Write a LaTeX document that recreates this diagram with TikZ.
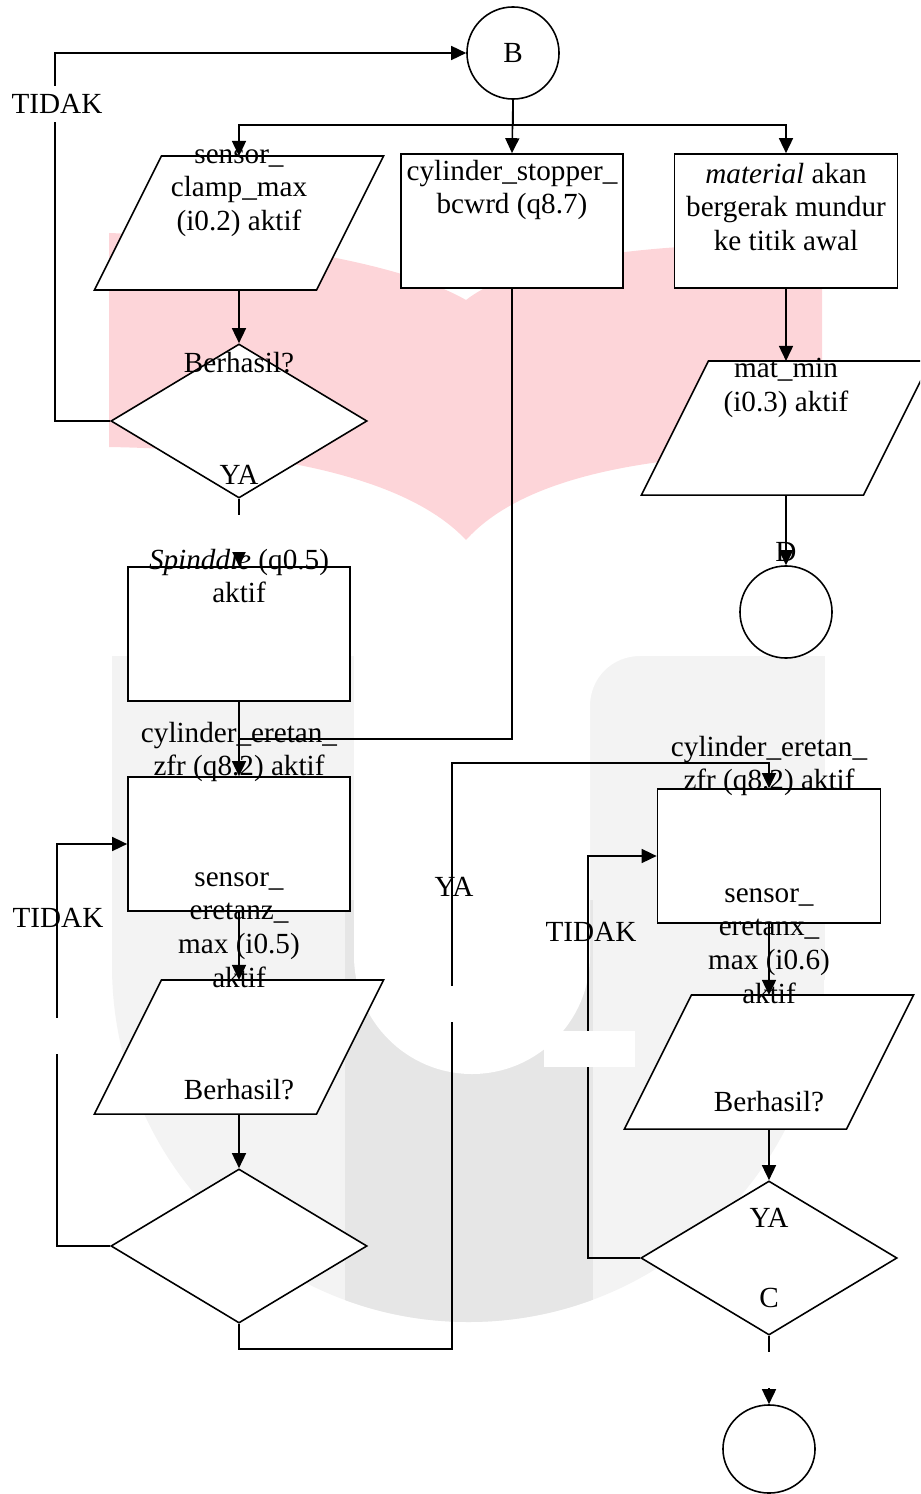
\documentclass[tikz,border=0pt]{standalone}
\usepackage{fontspec}
\setmainfont{Liberation Serif}
\usetikzlibrary{shapes.geometric,arrows.meta,positioning}
\definecolor{wmpink}{RGB}{253,213,217}
\definecolor{wmlight}{RGB}{243,243,243}
\definecolor{wmmid}{RGB}{230,230,230}

\begin{document}
\begin{tikzpicture}[
    x=0.01cm, y=-0.01cm,
    every node/.style={font=\fontsize{8.3}{9.6}\selectfont},
    proc/.style={rectangle, draw, fill=white, line width=0.45pt, minimum width=2.22cm, minimum height=1.34cm, inner sep=0},
    io/.style={rectangle, minimum width=2.22cm, minimum height=1.34cm, inner sep=0, outer sep=0,
        append after command={\pgfextra{\draw[fill=white, line width=0.45pt]
            ([xshift=0.335cm]\tikzlastnode.north west) -- ([xshift=0.335cm]\tikzlastnode.north east)
            -- ([xshift=-0.335cm]\tikzlastnode.south east) -- ([xshift=-0.335cm]\tikzlastnode.south west) -- cycle;}}},
    dec/.style={diamond, draw, fill=white, line width=0.45pt, minimum width=2.56cm, minimum height=1.54cm, inner sep=0},
    conn/.style={ellipse, draw, fill=white, line width=0.45pt, minimum width=0.92cm, minimum height=0.92cm, inner sep=0},
    txt/.style={align=center, inner sep=0},
    flow/.style={-{Triangle[length=0.15cm,width=0.14cm]}, line width=0.45pt},
    wire/.style={line width=0.45pt}
]
    \useasboundingbox (0,0) rectangle (920,1494);
    \clip (0,0) rectangle (920,1494);

    % Watermark
    \fill[wmpink] (109,233) .. controls (250,238) and (400,262) .. (466,300)
        .. controls (520,258) and (660,240) .. (822,245) -- (822,453)
        .. controls (640,452) and (520,480) .. (466,540)
        .. controls (410,480) and (280,450) .. (109,447) -- cycle;
    \begin{scope}
        \clip (112,656) -- (825,656) -- (825,966) .. controls (825,1163) and (665,1322) .. (468.5,1322)
            .. controls (272,1322) and (112,1163) .. (112,966) -- cycle;
        \fill[wmlight] (112,650) rectangle (825,1330);
        \fill[wmmid] (345,900) rectangle (593,1330);
    \end{scope}
    \fill[white] (354,650) -- (354,956) .. controls (354,1021) and (407,1074) .. (472,1074)
        .. controls (537,1074) and (590,1021) .. (590,956) -- (590,706)
        .. controls (590,678) and (612,656) .. (640,656) -- (640,650) -- cycle;

    % Shapes
    \node[conn] (b) at (513,53) {B};
    \node[io] (clamp) at (239,223) {};
    \node[proc] (stopper) at (512,221) {};
    \node[proc, minimum width=2.23cm] (mat) at (786,221) {};
    \node[dec] (dec1) at (239,421) {};
    \node[io] (matmin) at (786,428) {};
    \node[conn] (dconn) at (786,612) {};
    \node[proc] (spindle) at (239,634) {};
    \node[proc] (zfr1) at (239,844) {};
    \node[io] (sens1) at (239,1047) {};
    \node[dec] (dec2) at (239,1246) {};
    \node[proc, minimum width=2.23cm] (zfr2) at (769,856) {};
    \node[io] (sens2) at (769,1062) {};
    \node[dec] (dec3) at (769,1258) {};
    \node[conn, minimum height=0.88cm] (endc) at (769,1449) {};
    \coordinate (merge) at (239,739);
    \coordinate (yaturn) at (452,763);

    % Arrows
    \draw[flow] (b.south) -- (stopper.north);
    \draw[flow] (b.south) -- ++(0,25) -| (clamp.north);
    \draw[flow] (b.south) -- ++(0,25) -| (mat.north);
    \draw[flow] (clamp) -- (dec1);
    \draw[flow] (dec1.west) -- ++(-55,0) |- (b.west);
    \draw[flow] (dec1) -- (spindle);
    \draw[flow] (mat) -- (matmin);
    \draw[flow] (matmin) -- (dconn);
    \draw[wire] (stopper.south) |- (merge);
    \draw[flow] (spindle) -- (zfr1);
    \draw[flow] (zfr1) -- (sens1);
    \draw[flow] (sens1) -- (dec2);
    \draw[flow] (dec2.west) -- ++(-53,0) |- (zfr1.west);
    \draw[flow] (dec2.south) |- (452,1349) -- (yaturn) -| (zfr2.north);
    \draw[flow] (zfr2) -- (sens2);
    \draw[flow] (sens2) -- (dec3);
    \draw[flow] (dec3.west) -- ++(-52,0) |- (zfr2.west);
    \draw[flow] (dec3) -- (endc);

    % Texts
    \node[txt] (t_clamp) at (239,193) {sensor\_\\clamp\_max\\(i0.2) aktif};
    \node[txt] (t_stop) at (512,190) {cylinder\_stopper\_\\bcwrd (q8.7)};
    \node[txt] (t_mat) at (786,207) {\textit{material} akan\\bergerak mundur\\ke titik awal};
    \node[txt] (t_ok1) at (239,363) {Berhasil?};
    \node[txt] (t_ya1) at (239,475) {YA};
    \node[txt] (t_matmin) at (786,388) {mat\_min\\(i0.3) aktif};
    \node[txt] (t_d) at (786,552) {D};
    \node[txt] (t_spin) at (239,576) {\textit{Spinddle} (q0.5)\\aktif};
    \node[txt] (t_zfr1) at (239,752) {cylinder\_eretan\_\\zfr (q8.2) aktif};
    \node[txt] (t_sens1) at (239,930) {sensor\_\\eretanz\_\\max (i0.5)\\aktif};
    \node[txt] (t_ok2) at (239,1090) {Berhasil?};
    \node[txt] (t_zfr2) at (769,766) {cylinder\_eretan\_\\zfr (q8.2) aktif};
    \node[txt] (t_sens2) at (769,946) {sensor\_\\eretanx\_\\max (i0.6)\\aktif};
    \node[txt] (t_ok3) at (769,1102) {Berhasil?};
    \node[txt] (t_ya3) at (769,1218) {YA};
    \node[txt] (t_c) at (769,1298) {C};
    \node[txt] (t_no2) at (58,918) {TIDAK};
    \node[txt] (t_ya2) at (454,887) {YA};
    \node[txt] (t_no3) at (591,932) {TIDAK};

    % Gaps
    \fill[white] (231,515) rectangle (247,552);
    \fill[white] (50,1018) rectangle (66,1054);
    \fill[white] (444,986) rectangle (460,1022);
    \fill[white] (544,1031) rectangle (635,1067);
    \fill[white] (761,1352) rectangle (777,1388);
    \node[txt, fill=white, inner xsep=0.02cm, inner ysep=0.08cm] (t_no1) at (57,104) {TIDAK};
\end{tikzpicture}
\end{document}
